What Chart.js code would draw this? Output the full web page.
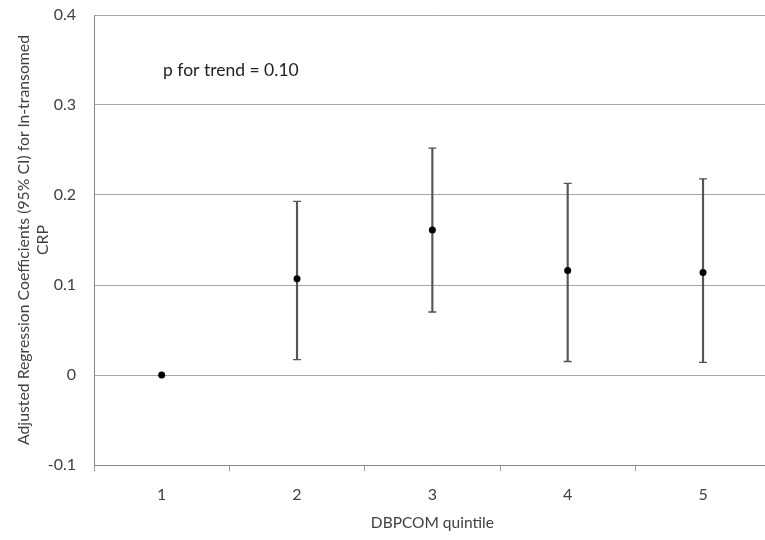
<!DOCTYPE html>
<html>
<head>
<meta charset="utf-8">
<script src="https://cdn.jsdelivr.net/npm/chart.js@4"></script>
<style>
  html, body { margin: 0; padding: 0; background: #fff; overflow: hidden; }
  #wrap { width: 765px; height: 540px; overflow: hidden; }
</style>
</head>
<body>
<div id="wrap"><canvas id="myChart" width="776" height="540"></canvas></div>
<script>
// quintiles of DBPCOM
const categories = ['1', '2', '3', '4', '5']
// adjusted regression coefficients and 95% CI (reference quintile has no CI)
const estimates = [0, 0.107, 0.161, 0.116, 0.114]
const lowerCI = [null, 0.017, 0.070, 0.015, 0.014]
const upperCI = [null, 0.193, 0.252, 0.213, 0.218]
const yTicks = [-0.1, 0, 0.1, 0.2, 0.3, 0.4]
const trendText = 'p for trend = 0.10'

const textColor = '#404040'
const fontFamily = 'Lato, "Open Sans", sans-serif'

const diagramm = () => {
    const ctx = document.getElementById('myChart').getContext('2d')

    // text label inside the plot
    const trendLabel = {
        id: 'trendLabel',
        afterDraw(chart) {
            const c = chart.ctx
            c.save()
            c.font = '17.5px ' + fontFamily
            c.fillStyle = '#222'
            c.textBaseline = 'middle'
            c.fillText(trendText, 163, 70)
            c.restore()
        }
    }

    const data = {
        labels: categories,
        datasets: [
            {
                type: 'line',
                label: 'estimate',
                data: estimates,
                showLine: false,
                pointStyle: 'circle',
                pointRadius: 3.5,
                pointBackgroundColor: '#000',
                pointBorderColor: '#000',
                pointBorderWidth: 0,
                order: 0
            },
            {
                type: 'line',
                label: 'upper',
                data: upperCI,
                showLine: false,
                pointStyle: 'line',
                pointRadius: 4,
                pointBorderColor: '#555',
                pointBorderWidth: 1.3,
                order: 1
            },
            {
                type: 'line',
                label: 'lower',
                data: lowerCI,
                showLine: false,
                pointStyle: 'line',
                pointRadius: 4,
                pointBorderColor: '#555',
                pointBorderWidth: 1.3,
                order: 1
            },
            {
                type: 'bar',
                label: 'ci',
                data: lowerCI.map((lo, i) => lo === null ? null : [lo, upperCI[i]]),
                backgroundColor: '#555',
                borderWidth: 0,
                barThickness: 1.5,
                order: 2
            }
        ]
    }

    const config = {
        type: 'bar',
        data: data,
        options: {
            responsive: false,
            animation: false,
            layout: {
                padding: { top: 15, right: 2, left: 0, bottom: 0 }
            },
            plugins: {
                legend: { display: false },
                tooltip: { enabled: false }
            },
            scales: {
                x: {
                    offset: true,
                    grid: {
                        offset: true,
                        drawOnChartArea: false,
                        drawTicks: true,
                        tickLength: 6,
                        color: '#999'
                    },
                    border: { color: '#888', width: 1 },
                    ticks: {
                        color: textColor,
                        padding: 14,
                        font: { family: fontFamily, size: 16 }
                    },
                    title: {
                        display: true,
                        text: 'DBPCOM quintile',
                        color: textColor,
                        font: { family: fontFamily, size: 15.5, lineHeight: 1.2 },
                        padding: { top: 4, bottom: 8 }
                    },
                    afterFit(scale) {
                        scale.height = 75
                        scale.paddingLeft = 0
                        scale.paddingRight = 0
                    }
                },
                y: {
                    min: yTicks[0],
                    max: yTicks[yTicks.length - 1],
                    afterBuildTicks(scale) {
                        scale.ticks = yTicks.map(v => ({ value: v }))
                    },
                    grid: {
                        color: '#a6a6a6',
                        drawTicks: false
                    },
                    border: { color: '#888', width: 1 },
                    ticks: {
                        color: textColor,
                        padding: 18,
                        font: { family: fontFamily, size: 16 },
                        callback: v => v === 0 ? '0' : v.toFixed(1)
                    },
                    title: {
                        display: true,
                        text: ['Adjusted Regression Coefficients (95% CI) for ln-transomed', 'CRP'],
                        color: textColor,
                        font: { family: fontFamily, size: 15.8, lineHeight: 1.2 },
                        padding: { top: 14, bottom: 0 }
                    },
                    afterFit(scale) {
                        scale.width = 94
                        scale.paddingTop = 0
                        scale.paddingBottom = 0
                    }
                }
            }
        },
        plugins: [trendLabel]
    }

    const myChart = new Chart(ctx, config)
}

diagramm()
</script>
</body>
</html>
